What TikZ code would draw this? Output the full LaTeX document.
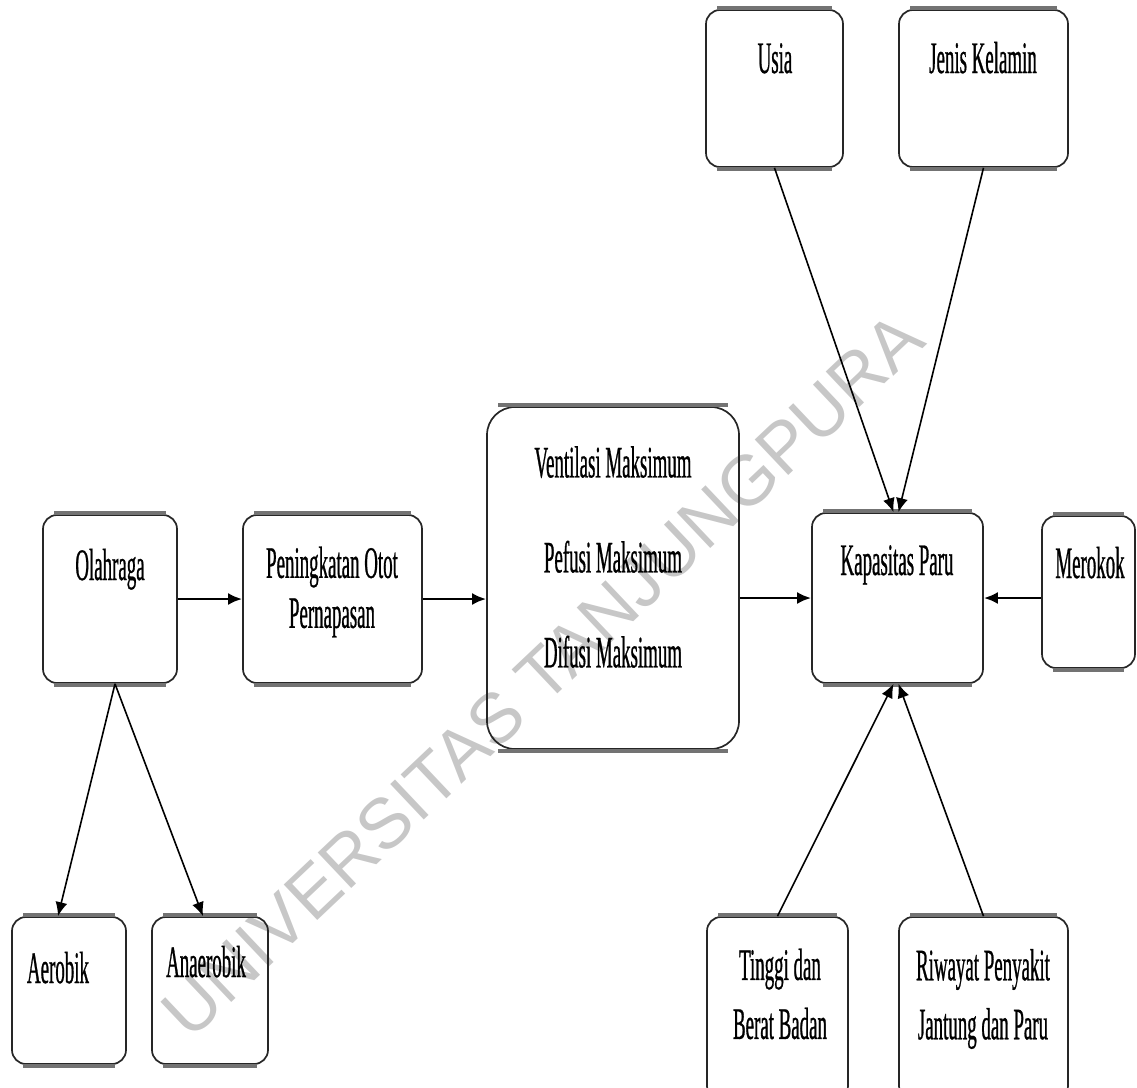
\documentclass[tikz,border=0pt]{standalone}
\usepackage{fontspec}
\setmainfont{Liberation Serif}
\newfontfamily\hurufsempit[FakeStretch=0.42,FakeBold=0.6]{Liberation Serif}
\newfontfamily\hurufcap{Liberation Sans}
\usetikzlibrary{arrows.meta,fit}

\tikzset{
  kotak/.style={draw=black!85, line width=0.85pt, rounded corners=7pt, inner sep=0pt},
  teks/.style={font={\hurufsempit\fontsize{22.5}{25}\selectfont}, align=center, inner sep=0pt},
  panah/.style={-{Latex[length=7pt,width=6pt]}, line width=0.8pt},
  panahtebal/.style={panah, line width=1.3pt},
  tepi/.style={black!55, line width=2pt},
  capair/.style={font={\hurufcap\fontsize{35.5}{40}\selectfont}, text=black!22, inner sep=0pt}
}

\begin{document}
\begin{tikzpicture}[x=0.5pt,y=-0.5pt]
  \useasboundingbox (0,0) rectangle (1137,1088);

  % watermark
  \node[capair, rotate=43.4] (capair) at (542,675) {UNIVERSITAS TANJUNGPURA};

  %%% kotak-kotak
  \node[kotak, fit={(43,515) (177,683)}] (olahraga) {};
  \node[kotak, fit={(243,515) (422,683)}] (peningkatan) {};
  \node[kotak, rounded corners=14pt, fit={(487,407) (739,749)}] (ventilasi) {};
  \node[kotak, fit={(812,513) (983,683)}] (kapasitas) {};
  \node[kotak, fit={(1042,516) (1135,668)}] (merokok) {};
  \node[kotak, fit={(706,10) (843,167)}] (usia) {};
  \node[kotak, fit={(899,10) (1068,167)}] (jenis) {};
  \node[kotak, fit={(12,917) (126,1064)}] (aerobik) {};
  \node[kotak, fit={(152,917) (268,1064)}] (anaerobik) {};
  \node[kotak, fit={(707,917) (848,1100)}] (tinggi) {};
  \node[kotak, fit={(899,917) (1068,1100)}] (riwayat) {};

  \foreach \b in {olahraga,peningkatan,ventilasi,kapasitas,merokok,usia,jenis,aerobik,anaerobik,tinggi,riwayat}{
    \draw[tepi] ([xshift=6pt,yshift=0.5pt]\b.north west) -- ([xshift=-6pt,yshift=0.5pt]\b.north east);
    \draw[tepi] ([xshift=6pt,yshift=-0.5pt]\b.south west) -- ([xshift=-6pt,yshift=-0.5pt]\b.south east);
  }

  %%% teks
  \node[teks, anchor=base] (t-olahraga) at (110,580) {Olahraga};
  \node[teks] (t-peningkatan) at (332,592) {Peningkatan Otot\\Pernapasan};
  \node[teks] (t-ventilasi) at (613,557) {Ventilasi Maksimum\\[22.5pt]Pefusi Maksimum\\[22.5pt]Difusi Maksimum};
  \node[teks, anchor=base] (t-kapasitas) at (897,575) {Kapasitas Paru};
  \node[teks, anchor=base] (t-merokok) at (1090,578) {Merokok};
  \node[teks, anchor=base] (t-usia) at (775,73) {Usia};
  \node[teks, anchor=base] (t-jenis) at (983,73) {Jenis Kelamin};
  \node[teks, anchor=base] (t-aerobik) at (58,983) {Aerobik};
  \node[teks, anchor=base] (t-anaerobik) at (206,977) {Anaerobik};
  \node[teks] (t-tinggi) at (780,994) {Tinggi dan\\[4.5pt]Berat Badan};
  \node[teks] (t-riwayat) at (983,999) {Riwayat Penyakit\\[4.5pt]Jantung dan Paru};

  %%% panah
  \draw[panahtebal] (olahraga) -- (peningkatan);
  \draw[panahtebal] (peningkatan) -- (peningkatan -| ventilasi.west);
  \draw[panahtebal] (ventilasi.east |- kapasitas) -- (kapasitas);
  \draw[panahtebal] (merokok.west |- kapasitas) -- (kapasitas);
  \draw[panah] (usia.south) -- ([xshift=-2pt]kapasitas.north);
  \draw[panah] (jenis.south) -- ([xshift=0.5pt]kapasitas.north);
  \draw[panah] (tinggi.north) -- ([xshift=-2pt]kapasitas.south);
  \draw[panah] (riwayat.north) -- ([xshift=0.5pt]kapasitas.south);
  \draw[panah] ([xshift=2.5pt]olahraga.south) -- ([xshift=-5.5pt]aerobik.north);
  \draw[panah] ([xshift=2.5pt]olahraga.south) -- ([xshift=-3.5pt]anaerobik.north);
\end{tikzpicture}
\end{document}
